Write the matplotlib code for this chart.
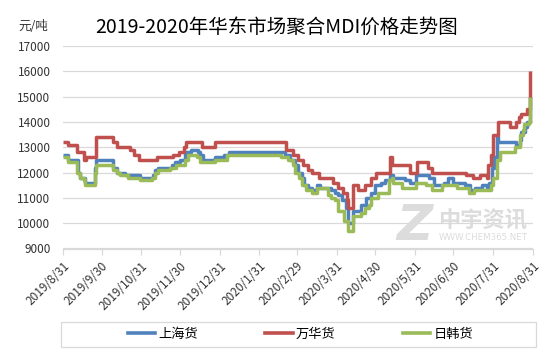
import matplotlib
matplotlib.use("Agg")
import matplotlib.pyplot as plt
import matplotlib.dates as mdates
from matplotlib.lines import Line2D
from matplotlib.patches import Rectangle
import pandas as pd

plt.rcParams['font.family'] = ['Noto Sans CJK SC', 'DejaVu Sans']

title = "2019-2020年华东市场聚合MDI价格走势图"
unit_label = "元/吨"
series_names = ["上海货", "万华货", "日韩货"]
colors = ["#4F81BD", "#C0504D", "#9BBB59"]

# change points (date, price) for each series
sh_dates = ["2019-08-31", "2019-09-04", "2019-09-12", "2019-09-13", "2019-09-17", "2019-09-25", "2019-09-26",
            "2019-10-09", "2019-10-12", "2019-10-18", "2019-10-30", "2019-11-09", "2019-11-11", "2019-11-13",
            "2019-11-24", "2019-11-26", "2019-11-30", "2019-12-04", "2019-12-09", "2019-12-14", "2019-12-16",
            "2019-12-18", "2019-12-27", "2020-01-03", "2020-01-07", "2020-02-20", "2020-02-24", "2020-02-28",
            "2020-03-01", "2020-03-04", "2020-03-06", "2020-03-09", "2020-03-12", "2020-03-16", "2020-03-18",
            "2020-03-27", "2020-03-30", "2020-04-01", "2020-04-04", "2020-04-07", "2020-04-09", "2020-04-13",
            "2020-04-19", "2020-04-23", "2020-04-27", "2020-04-30", "2020-05-05", "2020-05-08", "2020-05-12",
            "2020-05-14", "2020-05-23", "2020-05-27", "2020-06-01", "2020-06-11", "2020-06-15", "2020-06-23",
            "2020-06-26", "2020-06-30", "2020-07-09", "2020-07-13", "2020-07-17", "2020-07-22", "2020-07-26",
            "2020-07-28", "2020-07-30", "2020-08-01", "2020-08-03", "2020-08-04", "2020-08-18", "2020-08-21",
            "2020-08-22", "2020-08-25", "2020-08-26", "2020-08-29"]
sh_values = [12700, 12500, 12000, 11800, 11600, 12200, 12500,
             12200, 12000, 11900, 11800, 11900, 12100, 12200,
             12300, 12400, 12500, 12800, 12900, 12800, 12700,
             12500, 12600, 12700, 12800, 12700, 12500, 12300,
             12000, 11800, 11500, 11400, 11300, 11500, 11400,
             11300, 11200, 11100, 10900, 10600, 10000, 10500,
             10700, 11000, 11200, 11500, 11600, 11700, 11900,
             11800, 11700, 11600, 11900, 11800, 11500, 11600,
             11800, 11600, 11500, 11300, 11400, 11500, 11400,
             11600, 12200, 12600, 13400, 13200, 13100, 13300,
             13600, 13800, 14000, 15000]

wh_dates = ["2019-08-31", "2019-09-04", "2019-09-11", "2019-09-16", "2019-09-18", "2019-09-26", "2019-10-09",
            "2019-10-12", "2019-10-22", "2019-10-25", "2019-10-29", "2019-11-12", "2019-11-25", "2019-11-29",
            "2019-12-03", "2019-12-05", "2019-12-17", "2019-12-27", "2020-02-21", "2020-02-26", "2020-03-01",
            "2020-03-05", "2020-03-09", "2020-03-12", "2020-03-17", "2020-03-28", "2020-04-01", "2020-04-05",
            "2020-04-08", "2020-04-09", "2020-04-13", "2020-04-17", "2020-04-22", "2020-04-27", "2020-05-01",
            "2020-05-12", "2020-05-13", "2020-05-27", "2020-06-02", "2020-06-10", "2020-06-13", "2020-07-10",
            "2020-07-15", "2020-07-21", "2020-07-26", "2020-07-27", "2020-07-29", "2020-07-31", "2020-08-04",
            "2020-08-13", "2020-08-18", "2020-08-20", "2020-08-22", "2020-08-26", "2020-08-29"]
wh_values = [13200, 13100, 12800, 12500, 12600, 13400, 13200,
             13000, 12900, 12700, 12500, 12600, 12700, 12800,
             13000, 13200, 13000, 13200, 12900, 12700, 12500,
             12300, 12100, 12000, 11800, 11600, 11400, 11200,
             10900, 10600, 11500, 11300, 11500, 11800, 12000,
             12600, 12300, 12000, 12400, 12200, 12000, 11900,
             11800, 11900, 11800, 12300, 12700, 13500, 14000,
             13800, 14000, 14200, 14300, 14500, 16000]

rh_dates = ["2019-08-31", "2019-09-04", "2019-09-11", "2019-09-13", "2019-09-16", "2019-09-17", "2019-09-25",
            "2019-09-26", "2019-10-09", "2019-10-12", "2019-10-14", "2019-10-21", "2019-10-30", "2019-11-08",
            "2019-11-11", "2019-11-13", "2019-11-22", "2019-11-27", "2019-12-04", "2019-12-06", "2019-12-13",
            "2019-12-16", "2019-12-27", "2020-01-06", "2020-02-17", "2020-02-22", "2020-02-26", "2020-02-28",
            "2020-03-02", "2020-03-04", "2020-03-07", "2020-03-12", "2020-03-16", "2020-03-24", "2020-03-27",
            "2020-03-30", "2020-04-01", "2020-04-06", "2020-04-09", "2020-04-13", "2020-04-19", "2020-04-22",
            "2020-04-25", "2020-04-27", "2020-05-02", "2020-05-11", "2020-05-13", "2020-05-14", "2020-05-21",
            "2020-06-01", "2020-06-09", "2020-06-13", "2020-06-21", "2020-07-03", "2020-07-12", "2020-07-16",
            "2020-07-29", "2020-07-31", "2020-08-03", "2020-08-05", "2020-08-17", "2020-08-21", "2020-08-23",
            "2020-08-24", "2020-08-28", "2020-08-29"]
rh_values = [12600, 12400, 12000, 11800, 11700, 11500, 12000,
             12300, 12100, 12000, 11900, 11800, 11700, 11800,
             12000, 12100, 12200, 12300, 12500, 12700, 12600,
             12400, 12500, 12700, 12600, 12500, 12300, 12000,
             11800, 11500, 11300, 11200, 11400, 11100, 11000,
             10900, 10500, 10100, 9700, 10300, 10400, 10600,
             10700, 11000, 11200, 11700, 11800, 11600, 11400,
             11600, 11500, 11300, 11500, 11400, 11200, 11300,
             11500, 11800, 12500, 12800, 13000, 13500, 13700,
             13900, 14000, 15000]

month_ticks = ["2019-08-31", "2019-09-30", "2019-10-31", "2019-11-30", "2019-12-31", "2020-01-31",
               "2020-02-29", "2020-03-31", "2020-04-30", "2020-05-31", "2020-06-30", "2020-07-31", "2020-08-31"]
tick_labels = ["2019/8/31", "2019/9/30", "2019/10/31", "2019/11/30", "2019/12/31", "2020/1/31",
               "2020/2/29", "2020/3/31", "2020/4/30", "2020/5/31", "2020/6/30", "2020/7/31", "2020/8/31"]
y_ticks = [9000, 10000, 11000, 12000, 13000, 14000, 15000, 16000, 17000]

W, H = 554, 356
fig = plt.figure(figsize=(W / 100, H / 100), dpi=100)
ax = fig.add_axes([63 / W, 1 - 248.5 / H, (533 - 63) / W, (248.5 - 46) / H])

grid_c = "#D9D9D9"
# watermark
fig.text(414 / W, 1 - 226 / H, "Z", fontsize=36, fontweight="bold", fontstyle="italic",
         color="#DCDCDC", ha="center", va="center", family=["DejaVu Sans"])
fig.text(483 / W, 1 - 221 / H, "中宇资讯", fontsize=16, fontweight="bold", color="#DCDCDC",
         ha="center", va="center")
fig.text(483 / W, 1 - 237 / H, "WWW.CHEM365.NET", fontsize=6.2, color="#DCDCDC",
         ha="center", va="center", family=["DejaVu Sans"])

data = [(sh_dates, sh_values), (wh_dates, wh_values), (rh_dates, rh_values)]
for (d, v), name, c in zip(data, series_names, colors):
    ax.plot(pd.to_datetime(d), v, drawstyle="steps-post", color=c, lw=2.5,
            solid_joinstyle="round", solid_capstyle="butt", label=name)

ax.set_xlim(pd.Timestamp("2019-08-31"), pd.Timestamp("2020-08-31"))
ax.set_ylim(9000, 17000)
ax.set_yticks(y_ticks)
ax.set_yticklabels([str(t) for t in y_ticks])
ax.set_xticks(pd.to_datetime(month_ticks))
ax.set_xticklabels(tick_labels, rotation=45, ha="right", va="top", rotation_mode="anchor")
ax.grid(axis="y", color=grid_c, lw=0.9)
ax.set_axisbelow(True)
for s in ["left", "right", "top"]:
    ax.spines[s].set_visible(False)
ax.spines["bottom"].set_color(grid_c)
ax.spines["bottom"].set_linewidth(0.9)
ax.tick_params(axis="y", length=0, pad=9, labelsize=8.5, labelcolor="#333333")
ax.tick_params(axis="x", length=4, color=grid_c, width=0.9, pad=4, labelsize=8.5, labelcolor="#333333")

fig.text(0.5, 1 - 27.5 / H, title, fontsize=14, ha="center", va="center", color="#000000")
fig.text(33 / W, 1 - 26.5 / H, unit_label, fontsize=9, ha="center", va="center", color="#333333")

# legend frame
fig.patches.append(Rectangle((61 / W, 1 - 346.7 / H), (535.5 - 61) / W, 25 / H,
                             transform=fig.transFigure, fill=False, edgecolor=grid_c, lw=0.9))
handles = [Line2D([], [], color=c, lw=2.6) for c in colors]
fig.legend(handles, series_names, loc="center", bbox_to_anchor=(300.5 / W, 1 - 334.3 / H),
           ncol=3, frameon=False, fontsize=9.5, handlelength=2.05, handletextpad=0.25,
           columnspacing=5.1, borderpad=0.2)

fig.savefig("out.png", dpi=100)
